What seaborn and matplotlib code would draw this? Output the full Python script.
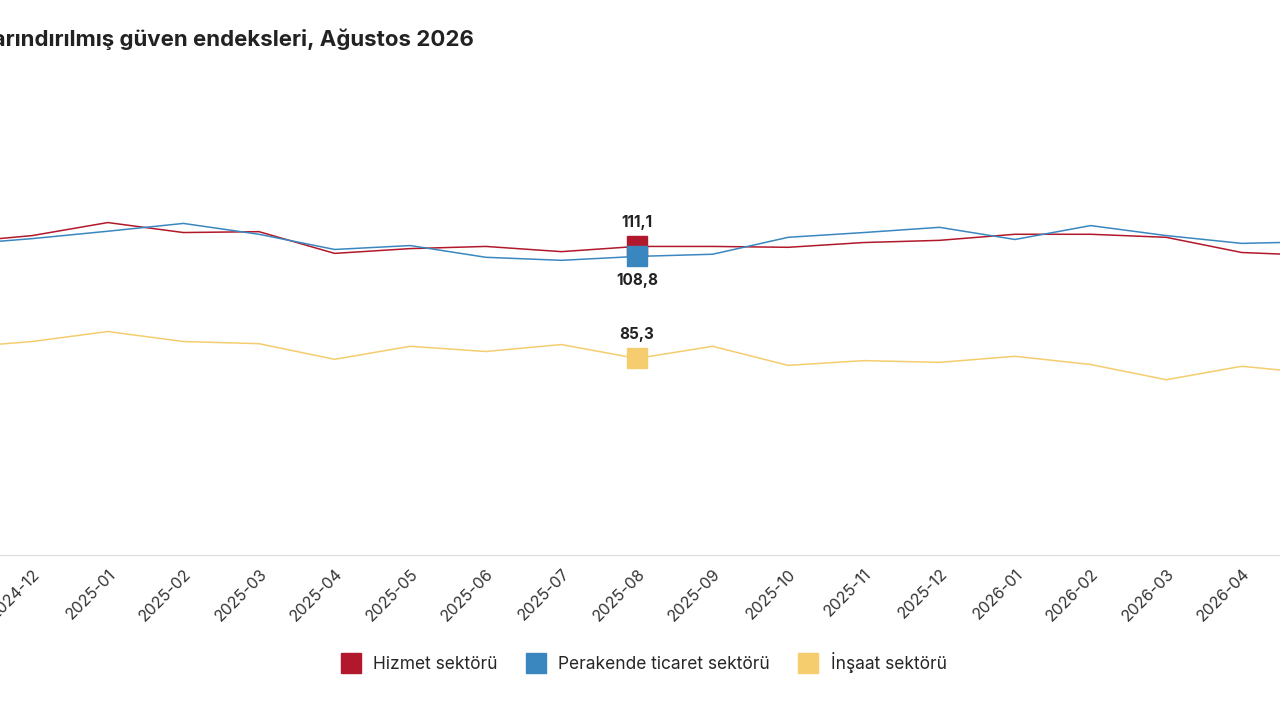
import pandas as pd
import numpy as np
import matplotlib.pyplot as plt
import seaborn as sns
from matplotlib.lines import Line2D

months = ["2024-11", "2024-12", "2025-01", "2025-02", "2025-03", "2025-04", "2025-05",
          "2025-06", "2025-07", "2025-08", "2025-09", "2025-10", "2025-11", "2025-12",
          "2026-01", "2026-02", "2026-03", "2026-04", "2026-05"]
hizmet = [112.0, 113.6, 116.6, 114.3, 114.5, 109.5, 110.6, 111.1, 109.9, 111.1,
          111.1, 110.9, 112.0, 112.5, 113.9, 113.9, 113.2, 109.7, 109.0]
perakende = [111.5, 112.9, 114.6, 116.4, 113.9, 110.4, 111.3, 108.6, 107.9, 108.8,
             109.3, 113.2, 114.3, 115.5, 112.7, 115.9, 113.6, 111.8, 112.2]
insaat = [87.8, 89.2, 91.5, 89.2, 88.7, 85.1, 88.1, 86.9, 88.5, 85.3,
          88.1, 83.7, 84.8, 84.4, 85.8, 83.9, 80.4, 83.5, 81.8]
series = ["Hizmet sektörü", "Perakende ticaret sektörü", "İnşaat sektörü"]
colors = ["#b2182b", "#3a87c0", "#f5cd6e"]
hl = "2025-08"

df = pd.DataFrame({"ay": months * 3,
                   "idx": list(range(len(months))) * 3,
                   "deger": hizmet + perakende + insaat,
                   "seri": [s for s in series for _ in months]})

sns.set_style("white")
plt.rcParams["font.family"] = ["Inter", "DejaVu Sans"]
fig = plt.figure(figsize=(12.8, 7.2), dpi=100)
ax = fig.add_axes([0, 0.229, 1, 0.603])
sns.lineplot(data=df, x="idx", y="deger", hue="seri", palette=colors,
             linewidth=1.1, legend=False, ax=ax)

hi = months.index(hl)
for vals, c, off, va in [(hizmet, colors[0], 12, "bottom"),
                         (perakende, colors[1], -12, "top"),
                         (insaat, colors[2], 12, "bottom")]:
    ax.plot(hi, vals[hi], marker="s", ms=14, color=c, zorder=5)
    ax.annotate(f"{vals[hi]:.1f}".replace(".", ","), (hi, vals[hi]),
                xytext=(0, off), textcoords="offset points", ha="center", va=va,
                fontsize=11, fontweight="bold", color="#222")

ax.set_xticks(range(len(months)))
ax.set_xticklabels(months, rotation=45, ha="right", rotation_mode="anchor",
                   fontsize=11.5, color="#333")
ax.set_xlim(9 - 637 / 75.6, 9 + 643 / 75.6)
ax.set_ylim(40, 140)
ax.tick_params(axis="x", length=0, pad=8)
ax.set_yticks([])
ax.set_xlabel("")
ax.set_ylabel("")
for s in ["top", "left", "right"]:
    ax.spines[s].set_visible(False)
ax.spines["bottom"].set_color("#dddddd")

fig.text(0.37, 0.945, "Mevsim etkilerinden arındırılmış güven endeksleri, Ağustos 2026",
         ha="right", va="center", fontsize=16, fontweight="bold", color="#222")

handles = [Line2D([], [], marker="s", ls="", ms=14, color=c) for c in colors]
fig.legend(handles, series, loc="center", bbox_to_anchor=(0.5, 0.08), ncol=3,
           frameon=False, fontsize=12.5, handletextpad=0.3, columnspacing=1.2)

fig.savefig("out.png", dpi=100)
